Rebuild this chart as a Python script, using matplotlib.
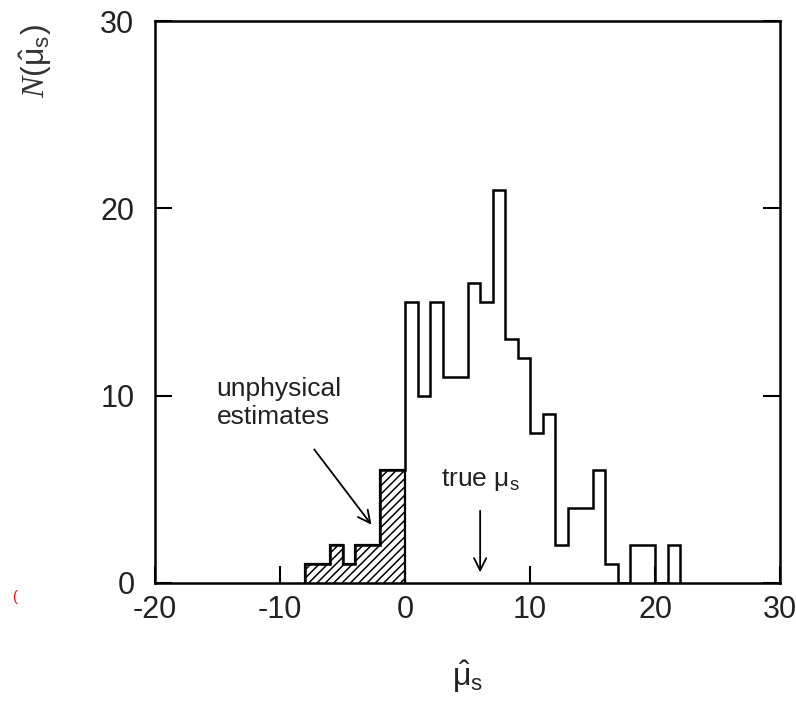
import numpy as np
import matplotlib.pyplot as plt

plt.rcParams['font.family'] = ['Liberation Sans', 'DejaVu Sans']
plt.rcParams['mathtext.fontset'] = 'custom'
plt.rcParams['mathtext.rm'] = 'Liberation Sans'
plt.rcParams['mathtext.it'] = 'Liberation Serif:italic'
plt.rcParams['mathtext.default'] = 'rm'
plt.rcParams['axes.unicode_minus'] = False
plt.rcParams['hatch.linewidth'] = 1.1

# histogram of the estimates, unit bins from -8 to 22
edges = np.arange(-8, 23)
counts = [1, 1, 2, 1, 2, 2, 6, 6,
          15, 10, 15, 11, 11, 16, 15, 21, 13, 12,
          8, 9, 2, 4, 4, 6, 1, 0, 2, 2, 0, 2]
n_neg = 8  # bins below zero (unphysical)

true_mu = 6

fig = plt.figure(figsize=(7.96, 7.08), dpi=100)
ax = fig.add_axes([0.195, 0.177, 0.785, 0.793])

ax.stairs(counts[:n_neg], edges[:n_neg + 1], fill=True, hatch='////',
          facecolor='white', edgecolor='black', linewidth=1.6)
ax.stairs(counts, edges, color='black', linewidth=1.8, baseline=0)

ax.set_xlim(-20, 30)
ax.set_ylim(0, 30)
ax.set_xticks([-20, -10, 0, 10, 20, 30])
ax.set_yticks([0, 10, 20, 30])
ax.tick_params(direction='in', length=12, width=1.5, top=False, right=True,
               labelsize=22, labelcolor='#222222')
ax.tick_params(axis='x', pad=9)
ax.tick_params(axis='y', pad=15)
for sp in ax.spines.values():
    sp.set_linewidth(1.8)

ax.annotate('unphysical\nestimates', xy=(-2.7, 3.1), xytext=(-15.1, 9.6),
            fontsize=19, ha='left', va='center', linespacing=1.2,
            color='#222222',
            arrowprops=dict(arrowstyle='->', color='black', lw=1.3,
                            shrinkA=16, shrinkB=0, mutation_scale=22))
ax.annotate('true $\\mu_s$', xy=(true_mu, 0.55), xytext=(true_mu, 5.5),
            fontsize=19, ha='center', va='center', color='#222222',
            arrowprops=dict(arrowstyle='->', color='black', lw=1.3,
                            shrinkA=11, shrinkB=0, mutation_scale=22))

ax.set_xlabel('$\\hat{\\mu}_s$', fontsize=23, labelpad=24, color='#222222')
fig.text(0.045, 0.913, '$\\mathit{N}(\\hat{\\mu}_s)$', rotation=90,
         fontsize=23, ha='center', va='center', color='#333333')

fig.text(0.018, 0.157, '(', color='red', fontsize=10, ha='center', va='center')

fig.savefig('out.png', dpi=100)
